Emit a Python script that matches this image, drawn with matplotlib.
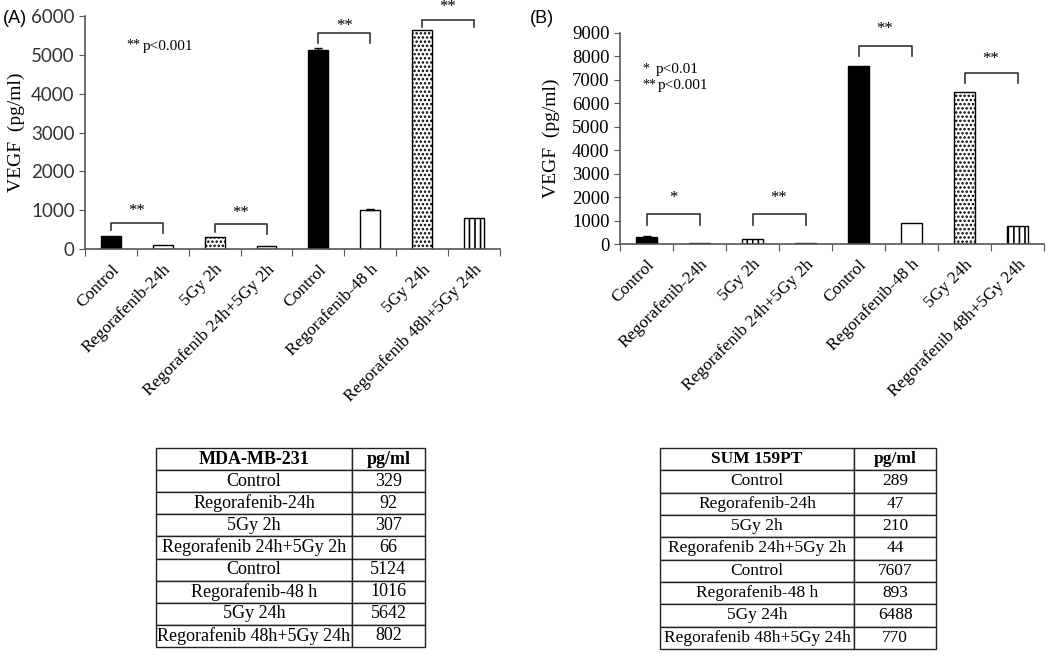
import matplotlib
matplotlib.use("Agg")
import matplotlib.pyplot as plt
import numpy as np

plt.rcParams['font.family'] = ['Liberation Serif', 'DejaVu Serif']
plt.rcParams['hatch.linewidth'] = 1.2

categories = ["Control", "Regorafenib-24h", "5Gy 2h", "Regorafenib 24h+5Gy 2h",
              "Control", "Regorafenib-48 h", "5Gy 24h", "Regorafenib 48h+5Gy 24h"]
table_rows_a = ["Control", "Regorafenib-24h", "5Gy 2h", "Regorafenib 24h+5Gy 2h",
                "Control", "Regorafenib-48 h", "5Gy 24h", "Regorafenib 48h+5Gy 24h"]
table_rows_b = table_rows_a

values_a = [329, 92, 307, 66, 5124, 1016, 5642, 802]
errors_a = [0, 0, 0, 0, 60, 20, 0, 0]
values_b = [289, 47, 210, 44, 7607, 893, 6488, 770]
errors_b = [40, 0, 0, 0, 0, 0, 0, 0]

# bracket pairs: (left index, right index, bar height, left leg end, right leg end, star y, label)
brackets_a = [(0, 1, 670, 490, 410, 980, "**"),
              (2, 3, 640, 450, 380, 920, "**"),
              (4, 5, 5560, 5300, 5300, 5740, "**"),
              (6, 7, 5900, 5710, 5710, 6230, "**")]
brackets_b = [(0, 1, 1280, 810, 810, 1950, "*"),
              (2, 3, 1280, 810, 810, 1950, "**"),
              (4, 5, 8450, 8020, 8020, 9150, "**"),
              (6, 7, 7290, 6870, 6870, 7880, "**")]

styles_a = [("black", ""), ("white", ""), ("white", "...."), ("white", "...."),
            ("black", ""), ("white", ""), ("white", "...."), ("white", "|||")]
styles_b = [("black", ""), ("black", ""), ("white", "|||"), ("black", ""),
            ("black", ""), ("white", ""), ("white", "...."), ("white", "|||")]

fig = plt.figure(figsize=(10.5, 6.57), dpi=100)

def draw_panel(rect, values, errors, styles, brackets, ymax, ystep, width, tickfont, tickcolor):
    ax = fig.add_axes(rect)
    x = np.arange(len(values))
    for i, (v, e, (fc, h)) in enumerate(zip(values, errors, styles)):
        ax.bar(x[i], v, width=width, color=fc, edgecolor="black", hatch=h, linewidth=1.0, zorder=2)
        if e > 0:
            ax.errorbar(x[i], v, yerr=[[0], [e]], color="black", capsize=3, lw=1, capthick=1, zorder=3)
    for (l, r, yb, ll, rl, ys, lab) in brackets:
        ax.plot([x[l], x[l], x[r], x[r]], [ll, yb, yb, rl], color="#333333", lw=1.2, clip_on=False)
        ax.text((x[l] + x[r]) / 2, ys, lab, ha="center", va="center", fontsize=12, clip_on=False)
    ax.set_xlim(-0.5, len(values) - 0.5)
    ax.set_ylim(0, ymax)
    ax.set_yticks(np.arange(0, ymax + 1, ystep))
    ax.set_xticks(np.arange(-0.5, len(values) + 0.5, 1))
    ax.set_xticklabels([])
    ax.set_xticks(x, minor=True)
    ax.set_xticklabels(categories, minor=True, rotation=45, ha="right", va="top",
                       rotation_mode="anchor", fontsize=12.5)
    ax.tick_params(axis="x", which="minor", length=0, pad=9)
    ax.tick_params(axis="x", which="major", length=5, direction="out", color="#555555")
    ax.tick_params(axis="y", length=4, direction="out", color="#555555")
    for lab in ax.get_yticklabels():
        lab.set_fontfamily(tickfont)
        lab.set_fontsize(13.5)
        lab.set_color(tickcolor)
    for s in ["top", "right"]:
        ax.spines[s].set_visible(False)
    for s in ["left", "bottom"]:
        ax.spines[s].set_color("#555555")
        ax.spines[s].set_linewidth(1.2)
    return ax

ax_a = draw_panel([0.081, 0.621, 0.395, 0.3546], values_a, errors_a, styles_a, brackets_a,
                  6000, 1000, 0.38, ['Lato', 'DejaVu Sans'], "#333333")
ax_a.set_ylabel("VEGF  (pg/ml)", fontsize=14, labelpad=4)
ax_a.text(0.10, 0.875, "**", transform=ax_a.transAxes, fontsize=10, va="center", ha="left")
ax_a.text(0.14, 0.87, "p<0.001", transform=ax_a.transAxes, fontsize=11, va="center", ha="left")
fig.text(0.003, 0.972, "(A)", fontsize=13, family=['Liberation Sans'], va="center", ha="left")

ax_b = draw_panel([0.5905, 0.6286, 0.4038, 0.3212], values_b, errors_b, styles_b, brackets_b,
                  9000, 1000, 0.40, ['Liberation Serif'], "black")
ax_b.set_ylabel("VEGF  (pg/ml)", fontsize=14, labelpad=9)
ax_b.text(0.052, 0.828, "*", transform=ax_b.transAxes, fontsize=10, va="center", ha="left")
ax_b.text(0.085, 0.825, "p<0.01", transform=ax_b.transAxes, fontsize=11, va="center", ha="left")
ax_b.text(0.052, 0.755, "**", transform=ax_b.transAxes, fontsize=10, va="center", ha="left")
ax_b.text(0.088, 0.75, "p<0.001", transform=ax_b.transAxes, fontsize=11, va="center", ha="left")
fig.text(0.505, 0.972, "(B)", fontsize=13, family=['Liberation Sans'], va="center", ha="left")

def draw_table(rect, title, rows, values, split, fs):
    ax = fig.add_axes(rect)
    ax.axis("off")
    cell = [[title, "pg/ml"]] + [[r, str(v)] for r, v in zip(rows, values)]
    tb = ax.table(cellText=cell, bbox=[0, 0, 1, 1], cellLoc="center",
                  colWidths=[split, 1 - split])
    tb.auto_set_font_size(False)
    for (r, c), cl in tb.get_celld().items():
        cl.set_linewidth(1.0)
        cl.set_edgecolor("#222222")
        cl.get_text().set_fontsize(fs)
        if r == 0:
            cl.get_text().set_fontweight("bold")
    return ax

draw_table([0.1486, 0.0152, 0.256, 0.303], "MDA-MB-231", table_rows_a, values_a, 0.729, 13)
draw_table([0.6286, 0.0122, 0.2629, 0.306], "SUM 159PT", table_rows_b, values_b, 0.703, 12.5)

fig.savefig("out.png", dpi=100)
